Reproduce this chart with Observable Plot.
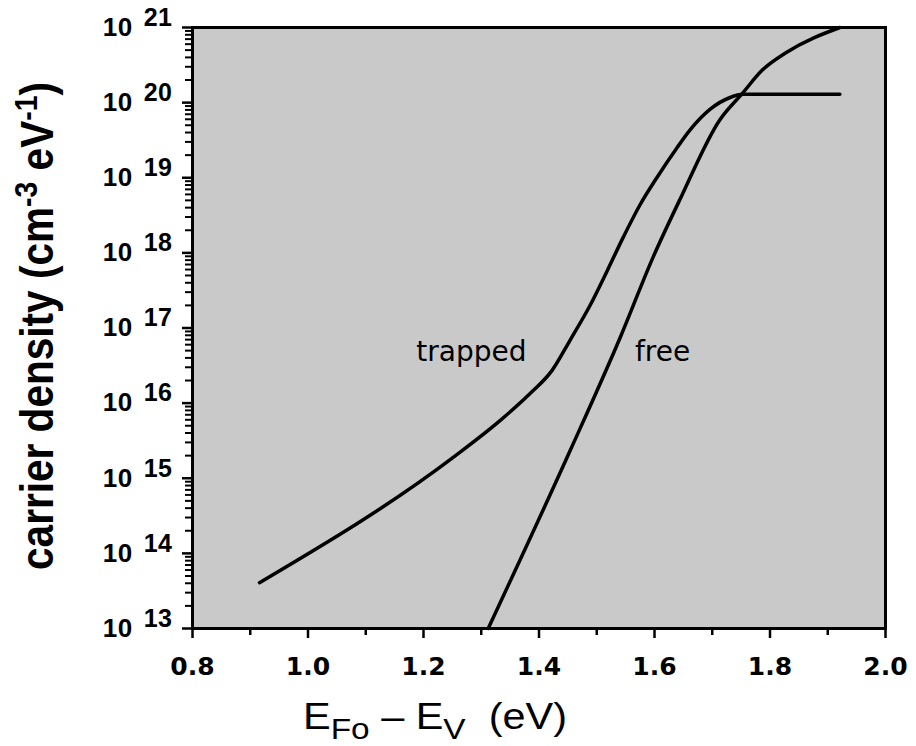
<!DOCTYPE html>
<html><head><meta charset="utf-8">
<script src="https://cdn.jsdelivr.net/npm/d3@7"></script>
<script src="https://cdn.jsdelivr.net/npm/@observablehq/plot@0.6"></script>
<style>body{margin:0;background:#fff} svg{display:block}</style>
</head><body><div id="chart"></div>
<script>
// Data
const trappedE = [0.916, 1.252, 1.333, 1.385, 1.423, 1.454, 1.489, 1.518, 1.546, 1.575, 1.604, 1.639, 1.662, 1.696, 1.731, 1.753, 1.921];
const trappedN = [4.07e13, 1.91e15, 5.89e15, 1.35e16, 2.75e16, 6.92e16, 2.04e17, 5.75e17, 1.62e18, 4.37e18, 1.0e19, 2.51e19, 4.37e19, 8.13e19, 1.17e20, 1.29e20, 1.29e20];
const freeE = [1.312, 1.454, 1.541, 1.598, 1.644, 1.713, 1.753, 1.785, 1.829, 1.921];
const freeN = [1e13, 2.34e15, 7.59e16, 8.91e17, 5.13e18, 5.89e19, 1.35e20, 2.63e20, 4.68e20, 1.0e21];
const xTicks = [0.8, 1.0, 1.2, 1.4, 1.6, 1.8, 2.0];
const xMinorTicks = [0.9, 1.1, 1.3, 1.5, 1.7, 1.9];
const yExponents = [13, 14, 15, 16, 17, 18, 19, 20, 21];
const yMinorFactors = [2, 3, 4, 5, 6, 7, 8, 9];
const labelTexts = ["trapped", "free"];
const labelE = [1.283, 1.614];
const labelN = [4.8e16, 4.8e16];

const trapped = trappedE.map((E, i) => ({E, N: trappedN[i]}));
const free = freeE.map((E, i) => ({E, N: freeN[i]}));
const labels = labelTexts.map((t, i) => ({t, E: labelE[i], N: labelN[i]}));
const yMajor = yExponents.map(e => Math.pow(10, e));
const yMinor = yExponents.slice(0, -1).flatMap(e => yMinorFactors.map(f => f * Math.pow(10, e)));

const plot = Plot.plot({
  width: 916, height: 746,
  marginLeft: 192, marginRight: 31, marginTop: 27, marginBottom: 118,
  x: {domain: [0.8, 2.0]},
  y: {type: "log", domain: [1e13, 1e21]},
  style: {fontFamily: "DejaVu Sans", color: "#000", background: "#fff", overflow: "visible"},
  marks: [
    Plot.frame({fill: "url(#stipple)"}),
    Plot.line(trapped, {x: "E", y: "N", curve: "monotone-x", stroke: "#000", strokeWidth: 3.5}),
    Plot.line(free, {x: "E", y: "N", curve: "monotone-x", stroke: "#000", strokeWidth: 3.5}),
    Plot.text(labels, {x: "E", y: "N", text: "t", fontSize: 28, fill: "#000", fontFamily: "DejaVu Sans"}),
    Plot.axisY(yMinor, {tickSize: 7, strokeWidth: 2, tickFormat: () => "", label: null}),
    Plot.axisY(yMajor, {tickSize: 10, strokeWidth: 2.5, tickPadding: 10,
      tickFormat: d => String(Math.round(Math.log10(d))), fontSize: 26, fontWeight: "bold",
      fontFamily: "Liberation Sans, Arial, sans-serif", label: null}),
    Plot.axisX(xMinorTicks, {tickSize: 7, strokeWidth: 2.5, tickFormat: () => "", label: null}),
    Plot.axisX(xTicks, {tickSize: 10, strokeWidth: 2.5, tickPadding: 19,
      tickFormat: d3.format(".1f"), fontSize: 25, fontWeight: "bold", label: null}),
    Plot.frame({stroke: "#000", strokeWidth: 3})
  ]
});

const svg = d3.select(plot);
const defs = svg.insert("defs", ":first-child");
const pat = defs.append("pattern").attr("id", "stipple").attr("patternUnits", "userSpaceOnUse")
  .attr("width", 2).attr("height", 2);
pat.append("rect").attr("width", 2).attr("height", 2).attr("fill", "#f6f6f6");
pat.append("rect").attr("width", 1).attr("height", 1).attr("fill", "#404040");

// superscript exponents on y tick labels
svg.selectAll('g[aria-label="y-axis tick label"] text').each(function () {
  const t = d3.select(this);
  const e = t.text();
  if (!e) return;
  t.text("")
    .style("font-family", "'Liberation Sans', Arial, sans-serif")
    .style("font-weight", "bold")
    .style("font-size", "26px")
    .style("letter-spacing", "0.5px");
  t.append("tspan").text("10");
  t.append("tspan").attr("dx", 11).attr("dy", -10).style("font-size", "25px").text(e);
});

svg.selectAll('g[aria-label="x-axis tick label"] text')
  .style("font-family", "'DejaVu Sans', sans-serif")
  .style("font-weight", "bold")
  .style("font-size", "25px");

// x-axis title
const xt = svg.append("text").attr("x", 435).attr("y", 729)
  .attr("font-family", "Liberation Sans, Arial, sans-serif").attr("font-size", 36)
  .attr("fill", "#000").style("white-space", "pre")
  .attr("textLength", 264).attr("lengthAdjust", "spacingAndGlyphs");
xt.append("tspan").text("E");
xt.append("tspan").attr("font-size", 29).attr("dy", 10).text("Fo");
xt.append("tspan").attr("dy", -10).text(" \u2013 ");
xt.append("tspan").text("E");
xt.append("tspan").attr("font-size", 29).attr("dy", 10).text("V");
xt.append("tspan").attr("dy", -10).text("  (eV)");

// y-axis title
const yt = svg.append("text").attr("transform", "translate(53,326) rotate(-90) scale(1,1.15)")
  .attr("text-anchor", "middle").attr("font-family", "Liberation Sans, Arial, sans-serif")
  .attr("font-weight", "bold").attr("font-size", 40).attr("fill", "#000")
  .attr("textLength", 488).attr("lengthAdjust", "spacingAndGlyphs");
yt.append("tspan").text("carrier density (cm");
yt.append("tspan").attr("font-size", 28).attr("dy", -14).text("-3");
yt.append("tspan").attr("dy", 14).text(" eV");
yt.append("tspan").attr("font-size", 28).attr("dy", -14).text("-1");
yt.append("tspan").attr("dy", 14).text(")");

document.getElementById("chart").appendChild(plot);
</script>
</body></html>
